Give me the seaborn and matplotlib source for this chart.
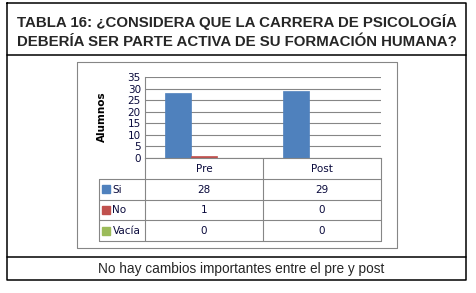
import matplotlib
matplotlib.use("Agg")
import matplotlib.pyplot as plt
import seaborn as sns
import pandas as pd

# data
periods = ['Pre', 'Post']
series = ['Si', 'No', 'Vacía']
si_vals = [28, 29]
no_vals = [1, 0]
vacia_vals = [0, 0]
colors = ['#4F81BD', '#C0504D', '#9BBB59']

title_lines = ['TABLA 16: ¿CONSIDERA QUE LA CARRERA DE PSICOLOGÍA',
               'DEBERÍA SER PARTE ACTIVA DE SU FORMACIÓN HUMANA?']
footer = 'No hay cambios importantes entre el pre y post'

df = pd.DataFrame({
    'periodo': periods * 3,
    'serie': [s for s in series for _ in periods],
    'valor': si_vals + no_vals + vacia_vals,
})

sns.set_theme(style='white')
plt.rcParams['font.family'] = ['DejaVu Sans']

W, H = 477, 293
fig = plt.figure(figsize=(W / 100, H / 100), dpi=100)

# background layer in pixel coords
bg = fig.add_axes([0, 0, 1, 1])
bg.set_xlim(0, W)
bg.set_ylim(H, 0)
bg.axis('off')

txt_col = '#0a0a3c'
grid_col = '#868686'

# outer frame
bg.plot([7.5, 466.5, 466.5, 7.5, 7.5], [3, 3, 280, 280, 3], color='black', lw=1.1)
bg.plot([7.5, 466.5], [55, 55], color='black', lw=1.1)
bg.plot([7.5, 466.5], [257, 257], color='black', lw=1.1)

for i, line in enumerate(title_lines):
    bg.text(237, 22 + i * 20, line, ha='center', va='center',
            fontsize=10.8, fontweight='bold', family='Liberation Sans')
bg.text(241, 268.5, footer, ha='center', va='center', fontsize=9.8,
        family='Liberation Sans')

# chart frame
bg.plot([77, 397, 397, 77, 77], [62, 62, 248, 248, 62], color=grid_col, lw=0.8)

# plot area
pl, pr, pt, pb = 145, 381, 77, 158
ax = fig.add_axes([pl / W, (H - pb) / H, (pr - pl) / W, (pb - pt) / H])
sns.barplot(data=df, x='periodo', y='valor', hue='serie', order=periods,
            hue_order=series, palette=colors, width=0.66, ax=ax,
            legend=False, saturation=1, linewidth=0.5)
for patch, c in zip(ax.patches, [colors[0]] * 2 + [colors[1]] * 2 + [colors[2]] * 2):
    patch.set_edgecolor(c)
ax.set_xlim(-0.5, 1.5)
ax.set_ylim(0, 35)
ax.set_yticks(range(0, 36, 5))
ax.yaxis.grid(True, color=grid_col, lw=0.8)
ax.set_axisbelow(True)
ax.set_xticks([])
ax.set_xlabel('')
ax.set_ylabel('')
ax.tick_params(axis='y', labelsize=7.5, colors=txt_col, length=0, pad=3)
for s in ['top', 'right']:
    ax.spines[s].set_visible(False)
for s in ['left', 'bottom']:
    ax.spines[s].set_color(grid_col)
    ax.spines[s].set_linewidth(0.8)

bg.text(102, 117, 'Alumnos', rotation=90, ha='center', va='center',
        fontsize=7.5, fontweight='bold', color='black')

# data table under the plot
rows = [179, 199.5, 220, 241]
cl, cm = 99, 263
tl = dict(color=grid_col, lw=0.8)
bg.plot([pl, pl], [pb, rows[-1]], **tl)
bg.plot([cm, cm], [pb, rows[-1]], **tl)
bg.plot([pr, pr], [pb, rows[-1]], **tl)
bg.plot([cl, cl], [rows[0], rows[-1]], **tl)
for y in rows:
    bg.plot([cl, pr], [y, y], **tl)

centers = [(pl + cm) / 2, (cm + pr) / 2]
for cx, p in zip(centers, periods):
    bg.text(cx, (pb + rows[0]) / 2 + 0.5, p, ha='center', va='center',
            fontsize=7.5, color=txt_col)
for r, (name, vals, c) in enumerate(zip(series, [si_vals, no_vals, vacia_vals], colors)):
    yc = (rows[r] + rows[r + 1]) / 2
    bg.add_patch(plt.Rectangle((102, yc - 4), 8, 8, color=c))
    bg.text(112.5, yc + 0.5, name, ha='left', va='center', fontsize=7.5, color=txt_col)
    for cx, v in zip(centers, vals):
        bg.text(cx, yc + 0.5, str(v), ha='center', va='center', fontsize=7.5, color=txt_col)

fig.savefig('out.png', dpi=100)
